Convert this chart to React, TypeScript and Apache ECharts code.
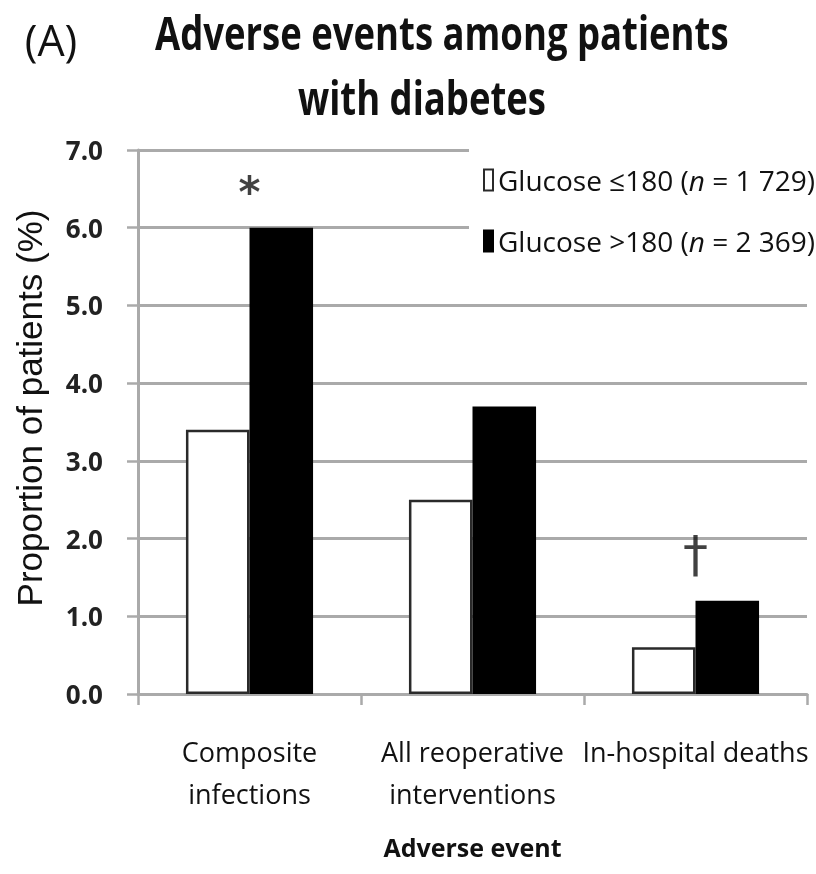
import React, { useEffect, useRef } from "react";
import * as echarts from "echarts";

const categories = ["Composite\ninfections", "All reoperative\ninterventions", "In-hospital deaths"];
const seriesNames = ["Glucose ≤180 (n = 1 729)", "Glucose >180 (n = 2 369)"];
const lowGlucose = [3.4, 2.5, 0.6];
const highGlucose = [6.0, 3.7, 1.2];
const markText = ["*", "", "†"];
const markValue = [6.45, null, 1.8];
const yTicks = [0, 1, 2, 3, 4, 5, 6, 7];
const titleLines = ["Adverse events among patients", "with diabetes"];
const panelLabel = "(A)";
const yAxisTitle = "Proportion of patients (%)";
const xAxisTitle = "Adverse event";

const FONT = "'Open Sans', sans-serif";
const GRID = "#aaaaaa";

export default function App() {
  const ref = useRef<HTMLDivElement>(null);
  useEffect(() => {
    const chart = echarts.init(ref.current!, null, { renderer: "svg" });
    const legendRich = (name: string) => {
      const m = name.match(/^(.*\()n( = .*)$/);
      if (!m) return name;
      return `{a|${m[1]}}{i|n}{a|${m[2]}}`;
    };
    const titleStyle = {
      fontFamily: FONT,
      fontSize: 38,
      fontWeight: "bold",
      fill: "#111",
      align: "left",
      textAlign: "left",
      verticalAlign: "middle",
      textVerticalAlign: "middle",
    };
    chart.setOption({
      animation: false,
      textStyle: { fontFamily: FONT },
      graphic: [
        {
          type: "text",
          x: 155,
          y: 32,
          scaleX: 0.96,
          scaleY: 1.22,
          style: { ...titleStyle, text: titleLines[0] },
        },
        {
          type: "text",
          x: 298,
          y: 97,
          scaleX: 0.96,
          scaleY: 1.22,
          style: { ...titleStyle, text: titleLines[1] },
        },
        {
          type: "text",
          x: 51,
          y: 39,
          style: {
            text: panelLabel,
            fontFamily: FONT,
            fontSize: 43,
            fill: "#111",
            align: "center",
            textAlign: "center",
            verticalAlign: "middle",
            textVerticalAlign: "middle",
          },
        },
        {
          type: "text",
          x: 29,
          y: 408,
          rotation: Math.PI / 2,
          style: {
            text: yAxisTitle,
            fontFamily: "'Liberation Sans', Arial, sans-serif",
            fontSize: 35,
            fill: "#111",
            align: "center",
            textAlign: "center",
            verticalAlign: "middle",
            textVerticalAlign: "middle",
          },
        },
      ],
      legend: {
        orient: "vertical",
        left: 469,
        top: 146,
        data: seriesNames,
        backgroundColor: "#fff",
        padding: [20, 4, 12, 14],
        itemGap: 33,
        itemWidth: 9,
        itemHeight: 21,
        icon: "rect",
        formatter: legendRich,
        textStyle: {
          fontFamily: FONT,
          fontSize: 28,
          color: "#111",
          rich: {
            a: { fontFamily: FONT, fontSize: 28, color: "#111" },
            i: { fontFamily: FONT, fontSize: 28, color: "#111", fontStyle: "italic" },
          },
        },
      },
      grid: { left: 138, right: 9, top: 150, bottom: 180, containLabel: false },
      xAxis: {
        type: "category",
        data: categories,
        name: xAxisTitle,
        nameLocation: "middle",
        nameGap: 140,
        nameTextStyle: { fontFamily: FONT, fontSize: 25, fontWeight: "bold", color: "#111" },
        axisLine: { lineStyle: { color: GRID, width: 3 } },
        axisTick: { show: true, length: 11, lineStyle: { color: GRID, width: 2.5 } },
        axisLabel: { fontFamily: FONT, fontSize: 27, lineHeight: 42, color: "#111", margin: 36, interval: 0 },
      },
      yAxis: {
        type: "value",
        min: 0,
        max: 7,
        interval: 1,
        axisLine: { show: true, lineStyle: { color: GRID, width: 3 } },
        axisTick: { show: true, length: 11, lineStyle: { color: GRID, width: 2.5 } },
        splitLine: { show: true, lineStyle: { color: GRID, width: 3 } },
        axisLabel: {
          fontFamily: FONT,
          fontSize: 26,
          fontWeight: "bold",
          color: "#222",
          margin: 35,
          formatter: (v: number) => (yTicks.includes(v) ? v.toFixed(1) : ""),
        },
      },
      series: [
        {
          name: seriesNames[0],
          type: "bar",
          data: lowGlucose,
          barGap: "0%",
          barCategoryGap: "43%",
          itemStyle: { color: "#fff", borderColor: "#2a2a2a", borderWidth: 2.5 },
        },
        {
          name: seriesNames[1],
          type: "bar",
          data: highGlucose,
          itemStyle: { color: "#000", borderColor: "#000", borderWidth: 2 },
        },
        {
          type: "scatter",
          symbolSize: 0,
          data: markValue.map((v, i) => (v == null ? null : [i, v])).filter((d) => d) as any,
          label: {
            show: true,
            position: "inside",
            formatter: (p: any) => {
              const t = markText[p.data[0]];
              return t === "†" ? `{d|${t}}` : `{s|${t}}`;
            },
            rich: {
              s: { fontFamily: "'DejaVu Sans', sans-serif", fontWeight: "bold", fontSize: 42, color: "#111" },
              d: { fontFamily: "'DejaVu Sans', sans-serif", fontSize: 50, color: "#111" },
            },
          },
          silent: true,
          z: 5,
        },
      ],
    });
    return () => chart.dispose();
  }, []);
  return <div ref={ref} style={{ position: "fixed", left: 0, top: 0, width: 816, height: 874 }} />;
}
